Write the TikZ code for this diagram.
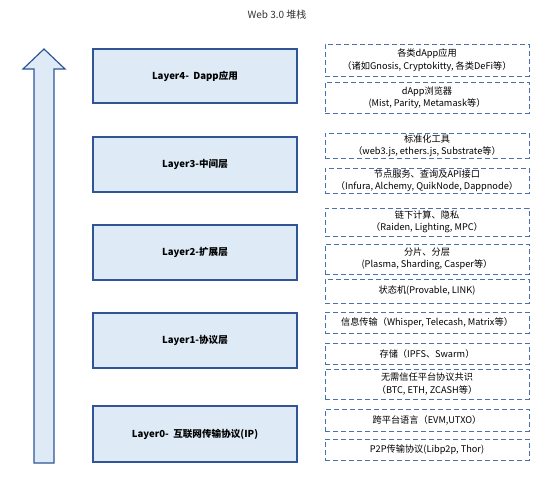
\documentclass[tikz,border=0pt]{standalone}
\usepackage{fontspec}
\setmainfont{Noto Sans CJK SC}
\usepackage{tikz}

\definecolor{layerfill}{HTML}{DEEBF7}
\definecolor{layerline}{HTML}{2F5597}
\definecolor{dashline}{HTML}{4A6FB0}

\begin{document}
\begin{tikzpicture}[x=1pt,y=-1pt,
		layerbox/.style={draw=layerline,line width=1.2pt,fill=layerfill,minimum width=204pt,font=\fontsize{9.6}{11}\selectfont\bfseries},
		itembox/.style={draw=dashline,line width=0.9pt,dash pattern=on 5pt off 3pt,minimum width=204pt,inner sep=0pt,align=center,font=\fontsize{9.2}{12.5}\selectfont}]
		\useasboundingbox (0,0) rectangle (554,477);
		\node[font=\fontsize{10}{12}\selectfont,text=black!80] (title) at (277,15) {Web 3.0 堆栈};
		
		% arrow on the left
		\draw[draw=layerline,line width=1.2pt,fill=layerfill] (34,463) -- (34,69) -- (23,69) -- (44,49) -- (65,69) -- (54,69) -- (54,463) -- cycle;
		
		% layers
		\node[layerbox,minimum height=54pt] (layer4) at (195,76) {Layer4-\ \ Dapp应用};
		\node[layerbox,minimum height=55pt] (layer3) at (195,164.5) {Layer3-中间层};
		\node[layerbox,minimum height=55pt] (layer2) at (195,252.5) {Layer2-扩展层};
		\node[layerbox,minimum height=55pt] (layer1) at (195,340.5) {Layer1-协议层};
		\node[layerbox,minimum height=56pt] (layer0) at (195,434) {Layer0-\ \ 互联网传输协议(IP)};
		
		% items
		\node[itembox,minimum height=32pt] (dapps) at (427,60) {各类dApp应用\\（诸如Gnosis, Cryptokitty, 各类DeFi等）};
		\node[itembox,minimum height=31pt] (browser) at (427,97.5) {dApp浏览器\\(Mist, Parity, Metamask等）};
		\node[itembox,minimum height=25pt] (tools) at (427,145.5) {标准化工具\\（web3.js, ethers.js, Substrate等）};
		\node[itembox,minimum height=25pt] (nodesvc) at (427,180.5) {节点服务、查询及API接口\\（Infura, Alchemy, QuikNode, Dappnode）};
		\node[itembox,minimum height=28pt] (offchain) at (427,222) {链下计算、隐私\\（Raiden, Lighting, MPC）};
		\node[itembox,minimum height=30pt] (sharding) at (427,259) {分片、分层\\(Plasma, Sharding, Casper等）};
		\node[itembox,minimum height=24pt] (statech) at (427,291) {状态机(Provable, LINK)};
		\node[itembox,minimum height=21pt] (msg) at (427,322.5) {信息传输（Whisper, Telecash, Matrix等）};
		\node[itembox,minimum height=21pt] (storage) at (427,353.5) {存储（IPFS、Swarm）};
		\node[itembox,minimum height=30pt] (consensus) at (427,384) {无需信任平台协议共识\\（BTC, ETH, ZCASH等）};
		\node[itembox,minimum height=22pt] (lang) at (427,420) {跨平台语言（EVM,UTXO）};
		\node[itembox,minimum height=21pt] (ptop) at (427,449.5) {P2P传输协议(Libp2p, Thor)};
		\end{tikzpicture}
\end{document}
